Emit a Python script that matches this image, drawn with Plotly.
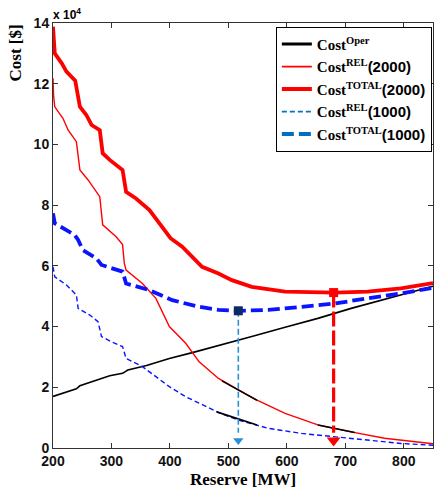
import plotly.graph_objects as go

# Reserve [MW] and cost [x 10^4 $] for each curve
oper_mw = [200, 240, 246, 270, 297, 319, 328, 360, 399, 440, 483, 540, 597, 653, 710, 767, 850]
oper_cost = [1.70, 1.95, 2.05, 2.20, 2.38, 2.46, 2.57, 2.72, 2.95, 3.15, 3.37, 3.67, 3.98, 4.27, 4.60, 4.90, 5.33]

rel2000_mw = [200, 201, 203, 217, 226, 240, 246, 260, 280, 285, 308, 319, 322, 325, 353, 376, 399,
              427, 450, 483, 512, 549, 597, 653, 710, 767, 850]
rel2000_cost = [12.18, 11.60, 11.24, 10.86, 10.47, 10.09, 9.16, 8.83, 8.28, 7.35, 6.96, 6.70, 6.08,
                5.86, 5.42, 4.93, 4.00, 3.45, 2.84, 2.29, 1.97, 1.58, 1.14, 0.76, 0.53, 0.32, 0.14]

tot2000_mw = [200, 201, 203, 215, 223, 238, 240, 246, 257, 266, 280, 285, 297, 319, 325, 342, 365,
              387, 401, 421, 440, 455, 483, 506, 540, 597, 682, 738, 795, 850]
tot2000_cost = [13.88, 13.30, 13.00, 12.67, 12.40, 12.10, 11.90, 11.24, 10.97, 10.64, 10.47, 9.71,
                9.49, 9.16, 8.44, 8.22, 7.84, 7.29, 6.91, 6.63, 6.25, 5.97, 5.75, 5.53, 5.31, 5.15,
                5.12, 5.15, 5.26, 5.43]

rel1000_mw = [200, 203, 223, 240, 243, 263, 277, 283, 300, 319, 325, 353, 376, 399, 427, 450, 483,
              517, 568, 625, 682, 738, 795, 850]
rel1000_cost = [5.97, 5.64, 5.37, 5.04, 4.60, 4.38, 4.16, 3.67, 3.50, 3.34, 2.95, 2.68, 2.35, 2.02,
                1.69, 1.47, 1.17, 0.92, 0.65, 0.48, 0.37, 0.26, 0.15, 0.09]

tot1000_mw = [200, 203, 223, 237, 243, 251, 274, 283, 319, 325, 365, 404, 450, 483, 517, 568, 625,
              682, 738, 795, 850]
tot1000_cost = [7.73, 7.40, 7.18, 7.02, 6.85, 6.52, 6.25, 6.03, 5.81, 5.42, 5.20, 4.87, 4.65, 4.55,
                4.52, 4.55, 4.65, 4.76, 4.93, 5.09, 5.28]

# Marginal-cost tangent segments (start/end reserve and cost)
tangent_mw = [[489, 549], [480, 549], [653, 716]]
tangent_cost = [[2.21, 1.57], [1.19, 0.76], [0.76, 0.51]]

# Optimal reserve points for the 1000 and 2000 cases
opt_mw = [517, 680]
opt_cost = [4.52, 5.12]
arrow_end = 0.25

x_ticks = [200, 300, 400, 500, 600, 700, 800]
y_ticks = [0, 2, 4, 6, 8, 10, 12, 14]

RED = "#ff0000"
BLUE = "#0a14ff"
LEG_BLUE = "#0070c0"
ARROW_BLUE = "#2a8fd4"
NAVY = "#0c2a66"

fig = go.Figure()

fig.add_trace(go.Scatter(x=oper_mw, y=oper_cost, mode="lines", showlegend=False,
                         line=dict(color="black", width=1.6)))
fig.add_trace(go.Scatter(x=rel2000_mw, y=rel2000_cost, mode="lines", showlegend=False,
                         line=dict(color=RED, width=1.4)))
fig.add_trace(go.Scatter(x=tot2000_mw, y=tot2000_cost, mode="lines", showlegend=False,
                         line=dict(color=RED, width=3.8)))
fig.add_trace(go.Scatter(x=rel1000_mw, y=rel1000_cost, mode="lines", showlegend=False,
                         line=dict(color=BLUE, width=1.4, dash="5px,3px")))
fig.add_trace(go.Scatter(x=tot1000_mw, y=tot1000_cost, mode="lines", showlegend=False,
                         line=dict(color=BLUE, width=3.8, dash="12px,5px")))

for tx, ty in zip(tangent_mw, tangent_cost):
    fig.add_trace(go.Scatter(x=tx, y=ty, mode="lines", showlegend=False,
                             line=dict(color="black", width=1.6)))

# Vertical arrows down to the optimal reserve
arrow_styles = [
    dict(color=ARROW_BLUE, width=1.6, dash="6px,3px", head=9, sq=NAVY),
    dict(color=RED, width=3.2, dash="15px,4px", head=12, sq=RED),
]
for mw, cost, st in zip(opt_mw, opt_cost, arrow_styles):
    fig.add_trace(go.Scatter(x=[mw, mw], y=[cost, arrow_end + 0.25], mode="lines", showlegend=False,
                             line=dict(color=st["color"], width=st["width"], dash=st["dash"])))
    fig.add_trace(go.Scatter(x=[mw], y=[arrow_end], mode="markers", showlegend=False,
                             marker=dict(symbol="triangle-down", size=st["head"], color=st["color"],
                                         line=dict(width=0))))
    fig.add_trace(go.Scatter(x=[mw], y=[cost], mode="markers", showlegend=False,
                             marker=dict(symbol="square", size=9, color=st["sq"], line=dict(width=0))))

# Legend entries
SANS = "<span style='font-family:Liberation Sans'>"
legend_items = [
    ("<b>Cost<sup>Oper</sup></b>", dict(color="black", width=3)),
    ("<b>Cost<sup>REL</sup>" + SANS + "(2000)</span></b>", dict(color=RED, width=1.6)),
    ("<b>Cost<sup>TOTAL</sup>" + SANS + "(2000)</span></b>", dict(color=RED, width=4)),
    ("<b>Cost<sup>REL</sup>" + SANS + "(1000)</span></b>", dict(color=LEG_BLUE, width=1.8, dash="5px,3px")),
    ("<b>Cost<sup>TOTAL</sup>" + SANS + "(1000)</span></b>", dict(color=LEG_BLUE, width=4, dash="12px,5px")),
]
for name, ln in legend_items:
    fig.add_trace(go.Scatter(x=[None], y=[None], mode="lines", name=name, line=ln))

axis_common = dict(
    showgrid=False, zeroline=False, showline=True, linecolor="#333333", linewidth=1,
    mirror="ticks", ticks="inside", ticklen=5, tickcolor="#333333",
    tickfont=dict(family="Liberation Sans", size=14, color="#111111", weight="bold"),
)

fig.update_layout(
    width=435, height=490,
    margin=dict(l=53, r=2, t=23, b=42),
    paper_bgcolor="white", plot_bgcolor="white",
    xaxis=dict(range=[200, 850], tickvals=x_ticks, ticktext=[str(v) for v in x_ticks], **axis_common),
    yaxis=dict(range=[0, 14], tickvals=y_ticks, ticktext=[str(v) for v in y_ticks], **axis_common),
    legend=dict(x=0.997, y=0.991, xanchor="right", yanchor="top",
                bgcolor="white", bordercolor="black", borderwidth=1,
                font=dict(family="Liberation Serif", size=15, color="black"),
                tracegroupgap=0),
    showlegend=True,
    annotations=[
        dict(text="<b>Reserve [MW]</b>", xref="paper", yref="paper", x=0.5, y=0,
             xanchor="center", yanchor="top", yshift=-20, showarrow=False,
             font=dict(family="Liberation Serif", size=17, color="black")),
        dict(text="<b>Cost [$]</b>", xref="paper", yref="paper", x=0, y=1,
             xanchor="center", yanchor="top", xshift=-38, showarrow=False, textangle=-90,
             font=dict(family="Liberation Serif", size=17, color="black")),
        dict(text="<b>x 10<sup>4</sup></b>", xref="paper", yref="paper", x=0, y=1,
             xanchor="left", yanchor="bottom", xshift=-2, yshift=-1, showarrow=False,
             font=dict(family="Liberation Sans", size=12, color="black")),
    ],
)

fig.write_html("out.html")
